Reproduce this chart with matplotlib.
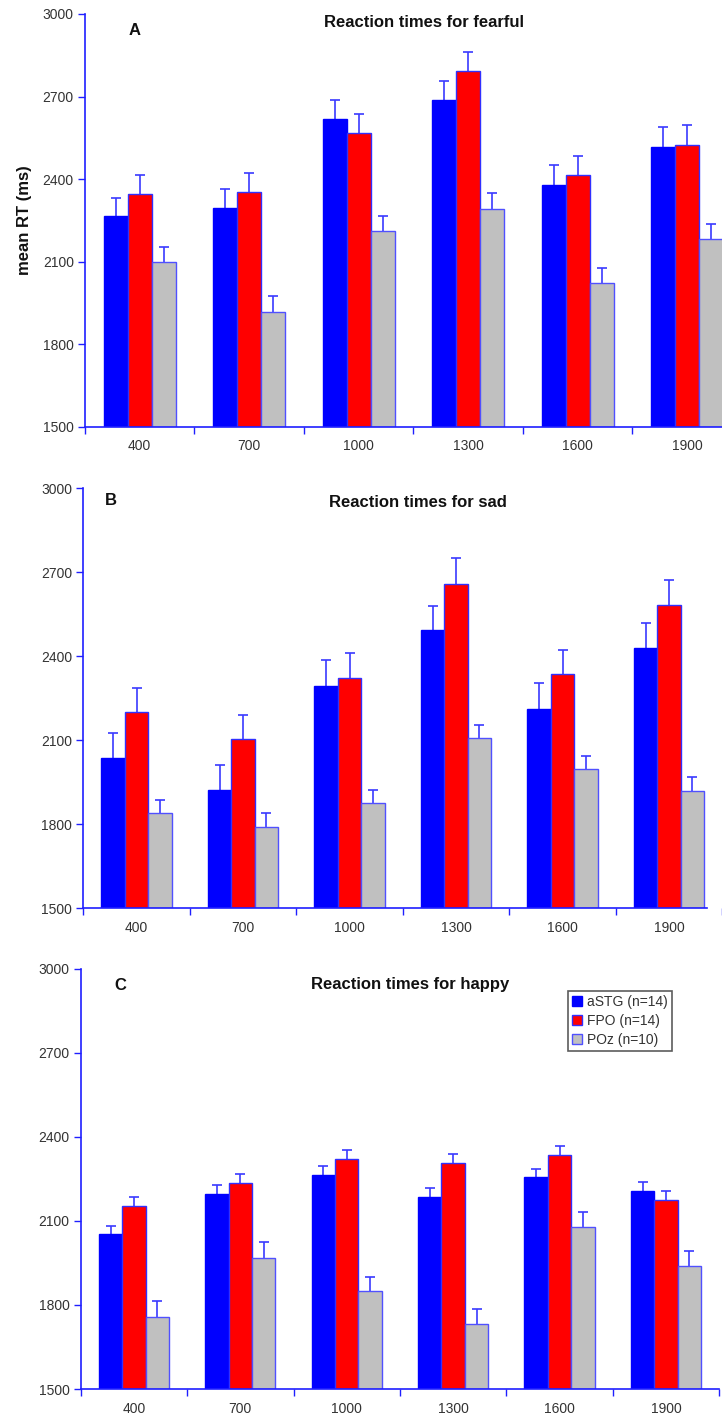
#!/usr/bin/env python3
# -*- coding: utf-8 -*-
import matplotlib

matplotlib.use("Agg")

import numpy as np
import matplotlib.pyplot as plt

plt.rcParams["font.family"] = ["Liberation Sans", "DejaVu Sans"]

IMAGE_DPI = 100.0

soa = ["400", "700", "1000", "1300", "1600", "1900"]
groups = ["aSTG (n=14)", "FPO (n=14)", "POz (n=10)"]

# panel A - fearful
fear_astg = [2265, 2294, 2618, 2687, 2380, 2517]
fear_fpo = [2346, 2354, 2569, 2792, 2416, 2525]
fear_poz = [2100, 1919, 2212, 2292, 2023, 2182]
fear_astg_se = [67, 71, 68, 68, 71, 71]
fear_fpo_se = [69, 69, 69, 69, 69, 70]
fear_poz_se = [54, 57, 55, 57, 55, 56]

# panel B - sad
sad_astg = [2037, 1924, 2294, 2492, 2213, 2430]
sad_fpo = [2200, 2104, 2323, 2658, 2336, 2583]
sad_poz = [1839, 1790, 1875, 2107, 1996, 1920]
sad_astg_se = [89, 89, 91, 89, 91, 90]
sad_fpo_se = [88, 87, 88, 91, 87, 88]
sad_poz_se = [46, 49, 48, 48, 49, 48]

# panel C - happy
happy_astg = [2052, 2195, 2265, 2185, 2256, 2208]
happy_fpo = [2152, 2237, 2320, 2308, 2336, 2176]
happy_poz = [1758, 1969, 1849, 1732, 2079, 1939]
happy_astg_se = [29, 32, 33, 32, 31, 30]
happy_fpo_se = [33, 32, 32, 32, 33, 32]
happy_poz_se = [55, 55, 52, 55, 54, 55]

AXIS_COLOR = "#1f1fff"
TEXT_COLOR = "#333333"
FILL = ["#0000ff", "#ff0000", "#c0c0c0"]
EDGE = ["#0000ff", "#3030ff", "#5050ff"]
ERR_COLOR = "#3a3aff"
BAR_W = 0.22


def plot_panel(ax, letter, title, series, errors, letter_xy, title_xy, ylabel=None):
    x = np.arange(len(soa))
    for i, (vals, se) in enumerate(zip(series, errors)):
        pos = x + (i - 1) * BAR_W
        ax.bar(
            pos,
            np.array(vals) - 1500,
            BAR_W,
            bottom=1500,
            color=FILL[i],
            edgecolor=EDGE[i],
            linewidth=1.0,
            label=groups[i],
            zorder=2,
        )
        # lower half is hidden behind the opaque bar
        ax.errorbar(
            pos,
            vals,
            yerr=se,
            fmt="none",
            ecolor=ERR_COLOR,
            elinewidth=1.2,
            capsize=3.5,
            capthick=1.2,
            zorder=1,
        )

    ax.set_ylim(1500, 3000)
    ax.set_xlim(-0.5, len(soa) - 0.5)
    ax.set_yticks([1500, 1800, 2100, 2400, 2700, 3000])
    ax.set_xticks(x)
    ax.set_xticklabels(soa)
    ax.set_xticks(np.arange(len(soa) + 1) - 0.5, minor=True)

    for side in ["top", "right"]:
        ax.spines[side].set_visible(False)
    for side in ["left", "bottom"]:
        ax.spines[side].set_color(AXIS_COLOR)
        ax.spines[side].set_linewidth(1.2)
        ax.spines[side].set_zorder(3)

    ax.tick_params(axis="x", which="major", length=0, pad=9, labelsize=10,
                   labelcolor=TEXT_COLOR)
    ax.tick_params(axis="x", which="minor", length=5, width=1.0, color=AXIS_COLOR,
                   direction="out")
    ax.tick_params(axis="y", length=5, width=1.0, color=AXIS_COLOR, pad=3,
                   labelsize=10, labelcolor=TEXT_COLOR)

    ax.text(letter_xy[0], letter_xy[1], letter, transform=ax.transAxes,
            ha="center", va="center", fontsize=12, fontweight="bold",
            color="#111111")
    ax.text(title_xy[0], title_xy[1], title, transform=ax.transAxes,
            ha="center", va="center", fontsize=12, fontweight="bold",
            color="#111111")
    if ylabel is not None:
        ax.set_ylabel(ylabel, fontsize=12, fontweight="bold", color="#111111",
                      labelpad=8)


fig = plt.figure(figsize=(722 / IMAGE_DPI, 1418 / IMAGE_DPI), dpi=IMAGE_DPI,
                 facecolor="white")

ax_a = fig.add_axes([0.1177, 0.6989, 0.91, 0.2913])
ax_b = fig.add_axes([0.1154, 0.3595, 0.885, 0.2962])
ax_c = fig.add_axes([0.1118, 0.02045, 0.8842, 0.2962])

plot_panel(
    ax_a, "A", "Reaction times for fearful",
    [fear_astg, fear_fpo, fear_poz],
    [fear_astg_se, fear_fpo_se, fear_poz_se],
    (0.075, 0.96), (0.516, 0.978), ylabel="mean RT (ms)",
)
plot_panel(
    ax_b, "B", "Reaction times for sad",
    [sad_astg, sad_fpo, sad_poz],
    [sad_astg_se, sad_fpo_se, sad_poz_se],
    (0.043, 0.97), (0.524, 0.965),
)
ax_b.spines["bottom"].set_bounds(-0.5, 5.36)

plot_panel(
    ax_c, "C", "Reaction times for happy",
    [happy_astg, happy_fpo, happy_poz],
    [happy_astg_se, happy_fpo_se, happy_poz_se],
    (0.062, 0.96), (0.516, 0.963),
)

leg = ax_c.legend(
    loc="upper left",
    bbox_to_anchor=(0.763, 0.948),
    fontsize=10,
    frameon=True,
    fancybox=False,
    handlelength=0.7,
    handleheight=0.7,
    handletextpad=0.4,
    labelspacing=0.35,
    borderpad=0.3,
    borderaxespad=0.0,
)
leg.get_frame().set_edgecolor("#333333")
leg.get_frame().set_linewidth(1.2)
for t in leg.get_texts():
    t.set_color(TEXT_COLOR)

fig.savefig("out.png", dpi=IMAGE_DPI)
